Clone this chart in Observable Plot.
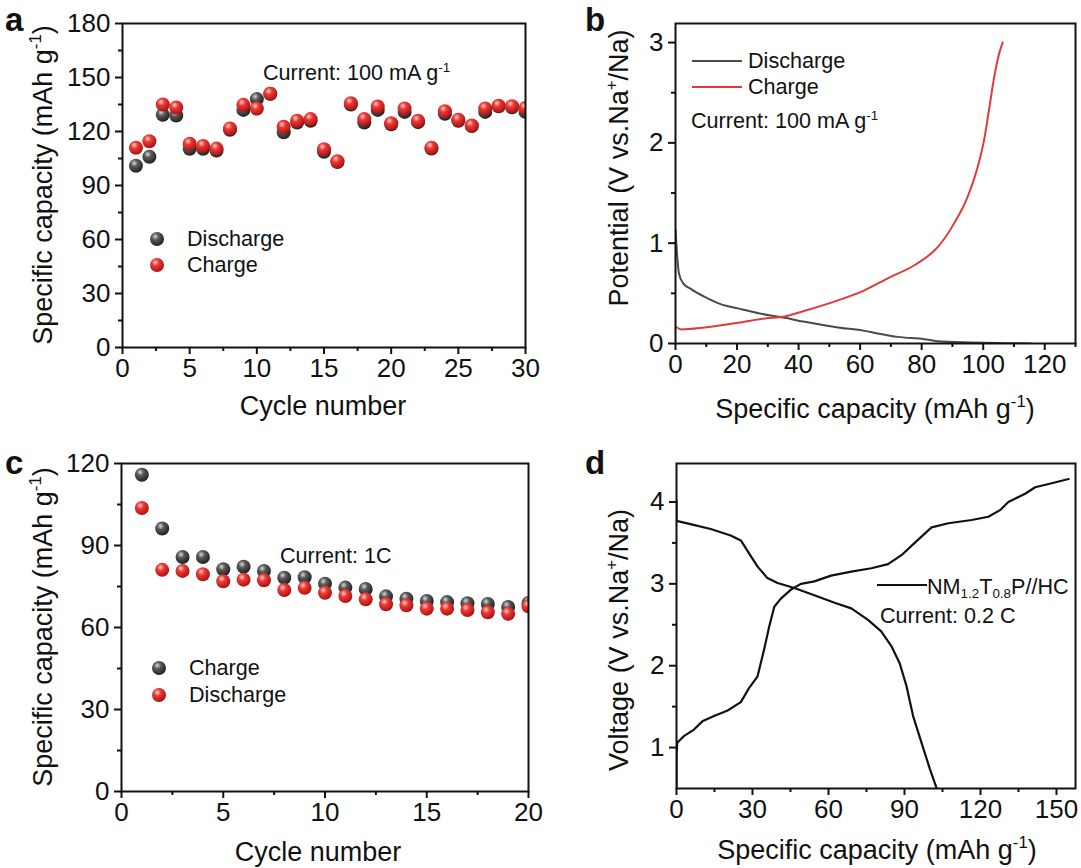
<!DOCTYPE html>
<html><head><meta charset="utf-8">
<script src="https://cdn.jsdelivr.net/npm/d3@7"></script>
<script src="https://cdn.jsdelivr.net/npm/@observablehq/plot@0.6"></script>
<style>
body{margin:0;background:#fff;}
#root{position:relative;width:1081px;height:868px;overflow:hidden;font-family:"Liberation Sans",Arial,sans-serif;color:#111;}
.abs{position:absolute;white-space:nowrap;line-height:1;}
.panel{position:absolute;}
.lbl{font-size:27px;transform:translate(-50%,-50%);}
.ylbl{font-size:27px;transform:translate(-50%,-50%) rotate(-90deg);}
.letter{font-weight:bold;font-size:33px;}
.ann{font-size:21.6px;transform:translateY(-50%);}
sup{font-size:0.62em;vertical-align:0.62em;line-height:0;}
sub{font-size:0.62em;vertical-align:-0.3em;line-height:0;}
</style>
</head><body>
<svg width="0" height="0" style="position:absolute">
  <defs>
    <radialGradient id="gGray" cx="38%" cy="32%" r="70%">
      <stop offset="0%" stop-color="#d8d8d8"/>
      <stop offset="35%" stop-color="#5a5a5a"/>
      <stop offset="100%" stop-color="#1e1e1e"/>
    </radialGradient>
    <radialGradient id="gRed" cx="38%" cy="32%" r="70%">
      <stop offset="0%" stop-color="#ffd0cc"/>
      <stop offset="35%" stop-color="#ec3a36"/>
      <stop offset="100%" stop-color="#a81010"/>
    </radialGradient>
  </defs>
</svg>
<div id="root"></div>
<script>
// ---------- Panel a data ----------
const cyclesA = [1,2,3,4,5,6,7,8,9,10,11,12,13,14,15,16,17,18,19,20,21,22,23,24,25,26,27,28,29,30];
const dischargeA = [101,106,129.3,128.9,110.4,110.4,109.4,121,132,138,141,119.6,125,126,108.7,103,135,125,132,124,130.9,125.2,110.5,129.8,126,123,130.9,134,133.5,130.9];
const chargeA = [111,114.6,135,133.3,113.2,112,110.5,121.7,134.8,132.8,141,122.6,126,126.9,110.2,103.5,135.7,126.9,133.9,124.6,132.8,126,111,131.3,126.5,123.3,132.8,134.3,134,133];
const xTicksA = [0,5,10,15,20,25,30];
const xMinorA = [2.5,7.5,12.5,17.5,22.5,27.5];
const yTicksA = [0,30,60,90,120,150,180];
const yMinorA = [15,45,75,105,135,165];

// ---------- Panel b data ----------
const bDisCap = [0,0.6,1.1,2.5,5.2,9.5,14.9,20.3,29,35.5,42,52.8,61.4,65.7,72.2,80.9,85.2,96,106.8,115.5];
const bDisV = [1.13,0.85,0.70,0.60,0.54,0.465,0.39,0.35,0.29,0.256,0.216,0.16,0.126,0.10,0.066,0.043,0.023,0.01,0.003,0];
const bChCap = [0,1.9,9.5,20.3,29,35.5,42,52.8,61.4,69,77.6,85.2,90.6,94.9,98.2,100.3,101.9,103.6,105.2,106.3];
const bChV = [0.17,0.14,0.16,0.206,0.25,0.27,0.326,0.43,0.53,0.65,0.78,0.96,1.2,1.46,1.76,2.03,2.33,2.66,2.89,3.0];
const xTicksB = [0,20,40,60,80,100,120];
const xMinorB = [10,30,50,70,90,110,130];
const yTicksB = [0,1,2,3];
const yMinorB = [0.5,1.5,2.5];

// ---------- Panel c data ----------
const cyclesC = [1,2,3,4,5,6,7,8,9,10,11,12,13,14,15,16,17,18,19,20];
const chargeC = [115.9,96.2,85.8,85.8,81.3,82.2,80.7,78.2,78.4,76,74.6,74.1,71.4,70.5,69.7,69.3,68.9,68.6,67.5,69];
const dischargeC = [103.7,81.1,80.7,79.5,76.9,77.5,77.3,73.7,74.5,72.7,71.5,70.3,68.5,68.1,66.9,66.9,66.4,65.6,65,67.8];
const xTicksC = [0,5,10,15,20];
const xMinorC = [2.5,7.5,12.5,17.5];
const yTicksC = [0,30,60,90,120];
const yMinorC = [15,45,75,105];

// ---------- Panel d data ----------
const dChCap = [0,0,0.3,2.9,6.9,10.2,14.8,20,25.4,28.7,32,34.6,36.6,38.6,41.2,45.2,49.1,54.4,61,69,76.9,83.5,88.8,95.4,100.7,107.3,116.5,123.1,127.7,131,137.6,141.6,146.9,154.8];
const dChV = [0.5,0.9,1.06,1.14,1.22,1.32,1.385,1.45,1.555,1.73,1.87,2.2,2.48,2.72,2.82,2.93,3.0,3.03,3.1,3.15,3.19,3.24,3.35,3.54,3.69,3.74,3.78,3.82,3.9,4.0,4.1,4.18,4.22,4.28];
const dDisCap = [0,0,5.5,13.5,21.4,25.4,28.7,32,35.9,39.9,46.5,54.4,62.4,69,75.6,80.8,84.8,88.1,90.8,93.4,96.7,100,102.6];
const dDisV = [4.02,3.77,3.73,3.67,3.59,3.53,3.37,3.21,3.07,3.01,2.95,2.86,2.77,2.70,2.56,2.42,2.24,2.03,1.75,1.385,1.06,0.74,0.51];
const xTicksD = [0,30,60,90,120,150];
const xMinorD = [15,45,75,105,135];
const yTicksD = [1,2,3,4];
const yMinorD = [1.5,2.5,3.5];

const FONT = "'Liberation Sans', Arial, sans-serif";
const root = document.getElementById("root");
const fmt = (d) => String(d);
const none = () => "";

function axes(xT, xM, yT, yM) {
  return [
    Plot.axisX(xT, {tickSize: 7, tickPadding: 4, strokeWidth: 2, fontSize: 26, tickFormat: fmt, label: null}),
    Plot.axisX(xM, {tickSize: 4, strokeWidth: 2, tickFormat: none, label: null}),
    Plot.axisY(yT, {tickSize: 7, tickPadding: 5, strokeWidth: 2, fontSize: 26, tickFormat: fmt, label: null}),
    Plot.axisY(yM, {tickSize: 4, strokeWidth: 2, tickFormat: none, label: null}),
    Plot.frame({stroke: "#111", strokeWidth: 2})
  ];
}

function place(svg, left, top) {
  const d = document.createElement("div");
  d.className = "panel";
  d.style.left = left + "px";
  d.style.top = top + "px";
  d.appendChild(svg);
  root.appendChild(d);
}

function addHTML(html) { root.insertAdjacentHTML("beforeend", html); }

const base = {style: {fontFamily: FONT, fontSize: "26px", color: "#111", background: "transparent", overflow: "visible"}};

// Panel a
const dataA = cyclesA.map((c, i) => ({c, d: dischargeA[i], ch: chargeA[i]}));
place(Plot.plot({
  ...base, width: 545, height: 400,
  marginLeft: 122, marginRight: 20, marginTop: 23, marginBottom: 53,
  x: {domain: [0, 30]}, y: {domain: [0, 180]},
  marks: [
    Plot.dot(dataA, {x: "c", y: "d", r: 7, fill: "url(#gGray)", clip: true}),
    Plot.dot(dataA, {x: "c", y: "ch", r: 7, fill: "url(#gRed)", clip: true}),
    ...axes(xTicksA, xMinorA, yTicksA, yMinorA)
  ]
}), 0, 0);

// Panel b
const disB = bDisCap.map((x, i) => ({x, y: bDisV[i]}));
const chB = bChCap.map((x, i) => ({x, y: bChV[i]}));
place(Plot.plot({
  ...base, width: 521, height: 400,
  marginLeft: 115, marginRight: 6, marginTop: 23, marginBottom: 57,
  x: {domain: [0, 130]}, y: {domain: [0, 3.19]},
  marks: [
    Plot.line(disB, {x: "x", y: "y", stroke: "#4a4a4a", strokeWidth: 2, curve: "monotone-x", clip: true}),
    Plot.line(chB, {x: "x", y: "y", stroke: "#e03a3a", strokeWidth: 2, curve: "monotone-x", clip: true}),
    ...axes(xTicksB, xMinorB, yTicksB, yMinorB)
  ]
}), 560, 0);

// Panel c
const dataC = cyclesC.map((c, i) => ({c, ch: chargeC[i], d: dischargeC[i]}));
place(Plot.plot({
  ...base, width: 545, height: 428,
  marginLeft: 121, marginRight: 17, marginTop: 23, marginBottom: 77,
  x: {domain: [0, 20]}, y: {domain: [0, 120]},
  marks: [
    Plot.dot(dataC, {x: "c", y: "ch", r: 7, fill: "url(#gGray)", clip: true}),
    Plot.dot(dataC, {x: "c", y: "d", r: 7, fill: "url(#gRed)", clip: true}),
    ...axes(xTicksC, xMinorC, yTicksC, yMinorC)
  ]
}), 0, 440);

// Panel d
const chD = dChCap.map((x, i) => ({x, y: dChV[i]}));
const disD = dDisCap.map((x, i) => ({x, y: dDisV[i]}));
place(Plot.plot({
  ...base, width: 521, height: 428,
  marginLeft: 116, marginRight: 6, marginTop: 23, marginBottom: 80,
  x: {domain: [0, 157.5]}, y: {domain: [0.5, 4.47]},
  marks: [
    Plot.line(chD, {x: "x", y: "y", stroke: "#111", strokeWidth: 2.2, clip: true}),
    Plot.line(disD, {x: "x", y: "y", stroke: "#111", strokeWidth: 2.2, clip: true}),
    ...axes(xTicksD, xMinorD, yTicksD, yMinorD)
  ]
}), 560, 440);

// Text overlays
const ball = (g) => `<svg width="16" height="16" style="vertical-align:middle"><circle cx="8" cy="8" r="7" fill="url(#${g})"/></svg>`;
addHTML(`
<div class="abs letter" style="left:5px;top:3px">a</div>
<div class="abs letter" style="left:585px;top:3px">b</div>
<div class="abs letter" style="left:5px;top:446px">c</div>
<div class="abs letter" style="left:585px;top:446px">d</div>

<div class="abs lbl" style="left:323px;top:406px">Cycle number</div>
<div class="abs ylbl" style="left:43px;top:185px">Specific capacity (mAh g<sup>-1</sup>)</div>
<div class="abs lbl" style="left:875px;top:409px">Specific capacity (mAh g<sup>-1</sup>)</div>
<div class="abs ylbl" style="left:619px;top:168px">Potential (V vs.Na<sup>+</sup>/Na)</div>
<div class="abs lbl" style="left:318px;top:852px">Cycle number</div>
<div class="abs ylbl" style="left:43px;top:627px">Specific capacity (mAh g<sup>-1</sup>)</div>
<div class="abs lbl" style="left:877px;top:850px">Specific capacity (mAh g<sup>-1</sup>)</div>
<div class="abs ylbl" style="left:619px;top:640px">Voltage (V vs.Na<sup>+</sup>/Na)</div>

<div class="abs ann" style="left:263px;top:73px">Current: 100 mA g<sup>-1</sup></div>
<div class="abs" style="left:149px;top:230px">${ball("gGray")}</div>
<div class="abs ann" style="left:187px;top:239px">Discharge</div>
<div class="abs" style="left:149px;top:256px">${ball("gRed")}</div>
<div class="abs ann" style="left:187px;top:265px">Charge</div>

<div class="abs" style="left:692px;top:60px;width:50px;border-top:2px solid #4a4a4a"></div>
<div class="abs ann" style="left:748px;top:61px">Discharge</div>
<div class="abs" style="left:692px;top:86px;width:50px;border-top:2px solid #e03a3a"></div>
<div class="abs ann" style="left:748px;top:87px">Charge</div>
<div class="abs ann" style="left:691px;top:121px">Current: 100 mA g<sup>-1</sup></div>

<div class="abs ann" style="left:280px;top:556px">Current: 1C</div>
<div class="abs" style="left:151px;top:659px">${ball("gGray")}</div>
<div class="abs ann" style="left:189px;top:668px">Charge</div>
<div class="abs" style="left:151px;top:686px">${ball("gRed")}</div>
<div class="abs ann" style="left:189px;top:695px">Discharge</div>

<div class="abs" style="left:877px;top:584px;width:50px;border-top:2px solid #111"></div>
<div class="abs ann" style="left:927px;top:587px">NM<sub>1.2</sub>T<sub>0.8</sub>P//HC</div>
<div class="abs ann" style="left:880px;top:616px">Current: 0.2 C</div>
`);
</script>
</body></html>
